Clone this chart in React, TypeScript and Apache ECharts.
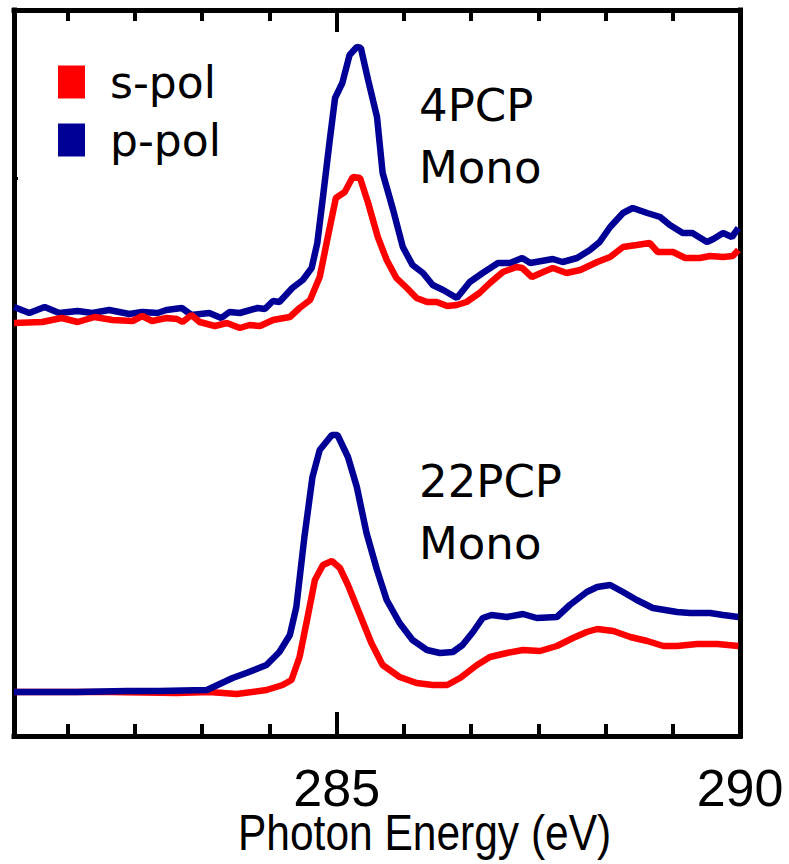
import React, { useEffect, useRef } from 'react';
import * as echarts from 'echarts';

// 4PCP Mono, p-pol
const energyP4 = [281.0, 281.19, 281.38, 281.56, 281.79, 281.97, 282.18, 282.43, 282.59, 282.78, 282.89, 283.08, 283.2, 283.42, 283.57, 283.67, 283.8, 284.02, 284.11, 284.21, 284.29, 284.45, 284.58, 284.69, 284.76, 284.83, 284.91, 284.98, 285.07, 285.16, 285.25, 285.3, 285.39, 285.5, 285.57, 285.7, 285.82, 285.94, 286.07, 286.19, 286.32, 286.49, 286.65, 286.81, 287.0, 287.15, 287.3, 287.4, 287.68, 287.8, 287.98, 288.14, 288.26, 288.39, 288.55, 288.67, 288.85, 289.01, 289.13, 289.29, 289.41, 289.59, 289.67, 289.79, 289.9, 289.98];
const intensityP4 = [4.29, 4.23, 4.29, 4.23, 4.25, 4.23, 4.26, 4.22, 4.24, 4.23, 4.26, 4.28, 4.21, 4.23, 4.18, 4.24, 4.23, 4.28, 4.27, 4.35, 4.34, 4.48, 4.56, 4.68, 4.93, 5.39, 5.93, 6.38, 6.53, 6.81, 6.89, 6.88, 6.56, 6.19, 5.63, 5.26, 4.89, 4.71, 4.63, 4.51, 4.46, 4.38, 4.54, 4.63, 4.73, 4.73, 4.78, 4.73, 4.77, 4.74, 4.78, 4.86, 4.94, 5.09, 5.23, 5.28, 5.23, 5.19, 5.11, 5.03, 5.03, 4.94, 4.97, 5.03, 4.99, 5.08];

// 4PCP Mono, s-pol
const energyS4 = [281.0, 281.35, 281.59, 281.79, 282.0, 282.22, 282.47, 282.59, 282.71, 282.89, 283.02, 283.09, 283.2, 283.3, 283.49, 283.64, 283.8, 283.92, 284.05, 284.21, 284.42, 284.54, 284.67, 284.79, 284.89, 284.99, 285.1, 285.2, 285.29, 285.39, 285.51, 285.62, 285.74, 285.87, 285.99, 286.12, 286.24, 286.37, 286.49, 286.61, 286.77, 286.9, 287.06, 287.23, 287.3, 287.42, 287.56, 287.68, 287.85, 288.02, 288.23, 288.39, 288.55, 288.72, 288.88, 288.98, 289.17, 289.32, 289.5, 289.63, 289.79, 289.91, 289.98];
const intensityS4 = [4.13, 4.14, 4.18, 4.14, 4.19, 4.16, 4.15, 4.2, 4.15, 4.18, 4.17, 4.14, 4.21, 4.14, 4.1, 4.13, 4.08, 4.11, 4.1, 4.16, 4.19, 4.28, 4.36, 4.59, 4.99, 5.38, 5.44, 5.59, 5.58, 5.33, 4.99, 4.76, 4.58, 4.48, 4.38, 4.34, 4.34, 4.3, 4.31, 4.34, 4.43, 4.53, 4.64, 4.69, 4.68, 4.59, 4.64, 4.68, 4.63, 4.66, 4.74, 4.79, 4.89, 4.91, 4.93, 4.84, 4.84, 4.78, 4.78, 4.8, 4.79, 4.8, 4.86];

// 22PCP Mono, p-pol
const energyP22 = [281.0, 281.77, 282.4, 282.8, 283.39, 283.71, 283.88, 284.13, 284.29, 284.42, 284.5, 284.6, 284.7, 284.79, 284.94, 285.01, 285.14, 285.25, 285.37, 285.5, 285.62, 285.78, 285.94, 286.12, 286.28, 286.44, 286.56, 286.69, 286.81, 286.92, 287.11, 287.31, 287.48, 287.73, 287.89, 288.1, 288.23, 288.39, 288.55, 288.72, 288.92, 289.22, 289.38, 289.63, 289.79, 289.98];
const intensityP22 = [0.44, 0.44, 0.45, 0.45, 0.46, 0.58, 0.63, 0.71, 0.84, 1.01, 1.29, 1.99, 2.59, 2.86, 3.01, 3.01, 2.79, 2.49, 2.03, 1.66, 1.36, 1.13, 0.96, 0.86, 0.83, 0.84, 0.91, 1.04, 1.18, 1.21, 1.19, 1.22, 1.18, 1.19, 1.31, 1.44, 1.49, 1.51, 1.44, 1.36, 1.28, 1.24, 1.23, 1.23, 1.21, 1.19];

// 22PCP Mono, s-pol
const energyS22 = [281.0, 282.18, 283.02, 283.42, 283.76, 284.13, 284.33, 284.44, 284.54, 284.64, 284.73, 284.83, 284.94, 285.04, 285.14, 285.29, 285.43, 285.57, 285.78, 285.99, 286.19, 286.37, 286.53, 286.74, 286.9, 287.11, 287.31, 287.52, 287.73, 287.93, 288.1, 288.23, 288.43, 288.64, 288.85, 289.05, 289.22, 289.47, 289.72, 289.98];
const intensityS22 = [0.44, 0.44, 0.43, 0.44, 0.42, 0.46, 0.51, 0.56, 0.79, 1.19, 1.56, 1.71, 1.75, 1.68, 1.51, 1.21, 0.93, 0.71, 0.59, 0.53, 0.51, 0.51, 0.58, 0.71, 0.79, 0.83, 0.86, 0.85, 0.9, 0.98, 1.04, 1.07, 1.05, 0.99, 0.95, 0.9, 0.9, 0.92, 0.92, 0.9];

const majorTickValues = [285];
const minorTickValues = [281.6667, 282.5, 283.3333, 284.1667, 285.8333, 286.6667, 287.5, 288.3333, 289.1667];
const tickLabelValues = [285, 290];
const yTickValues = [5.58];
const xAxisTitle = 'Photon Energy (eV)';

const RED = '#ff0000';
const BLUE = '#000096';

const pairs = (xs: number[], ys: number[]) => xs.map((x, i) => [x, ys[i]]);

export default function App() {
  const ref = useRef<HTMLDivElement>(null);
  useEffect(() => {
    const chart = echarts.init(ref.current!, null, { renderer: 'svg' });
    const axisLine = { show: true, lineStyle: { color: '#000', width: 5, cap: 'square' } };
    const lineSeries = (name: string, color: string, xs: number[], ys: number[]) => ({
      name,
      type: 'line',
      xAxisIndex: 0,
      yAxisIndex: 0,
      data: pairs(xs, ys),
      showSymbol: false,
      symbol: 'none',
      itemStyle: { color },
      lineStyle: { color, width: 6.5 },
      clip: true,
    });
    chart.setOption({
      animation: false,
      backgroundColor: '#fff',
      grid: { left: 14, right: 49, top: 10, bottom: 128, containLabel: false, outerBoundsMode: 'none' },
      legend: {
        data: ['s-pol', 'p-pol'],
        orient: 'vertical',
        left: 58,
        top: 60,
        icon: 'rect',
        itemWidth: 27,
        itemHeight: 33,
        itemGap: 14,
        padding: 0,
        textStyle: {
          fontSize: 44,
          fontFamily: 'DejaVu Sans',
          color: '#000',
          padding: [0, 0, 0, 20],
        },
      },
      xAxis: [
        {
          type: 'value', position: 'bottom', min: 281, max: 290,
          axisLine,
          splitLine: { show: false },
          axisTick: { show: true, inside: true, length: 12, customValues: minorTickValues, lineStyle: { width: 4, color: '#000' } },
          axisLabel: { show: true, customValues: tickLabelValues, margin: 26, fontSize: 52, fontFamily: 'Liberation Sans', color: '#000' },
        },
        {
          type: 'value', position: 'bottom', min: 281, max: 290,
          axisLine: { show: false },
          splitLine: { show: false },
          axisTick: { show: true, inside: true, length: 24, customValues: majorTickValues, lineStyle: { width: 4, color: '#000' } },
          axisLabel: { show: false },
        },
        {
          type: 'value', position: 'top', min: 281, max: 290,
          axisLine,
          splitLine: { show: false },
          axisTick: { show: true, inside: true, length: 11, customValues: minorTickValues, lineStyle: { width: 4, color: '#000' } },
          axisLabel: { show: false },
        },
        {
          type: 'value', position: 'top', min: 281, max: 290,
          axisLine: { show: false },
          splitLine: { show: false },
          axisTick: { show: true, inside: true, length: 22, customValues: majorTickValues, lineStyle: { width: 4, color: '#000' } },
          axisLabel: { show: false },
        },
      ],
      yAxis: [
        {
          type: 'value', position: 'left', min: 0, max: 7.26,
          axisLine,
          splitLine: { show: false },
          axisTick: { show: true, inside: true, length: 4, customValues: yTickValues, lineStyle: { width: 3, color: '#000' } },
          axisLabel: { show: false },
        },
        {
          type: 'value', position: 'right', min: 0, max: 7.26,
          axisLine,
          splitLine: { show: false },
          axisTick: { show: false },
          axisLabel: { show: false },
        },
      ],
      graphic: [
        { type: 'text', left: 419, top: 83, style: { text: '4PCP', fontSize: 45, fontFamily: 'DejaVu Sans', fill: '#000' } },
        { type: 'text', left: 419, top: 145, style: { text: 'Mono', fontSize: 45, fontFamily: 'DejaVu Sans', fill: '#000' } },
        { type: 'text', left: 419, top: 459, style: { text: '22PCP', fontSize: 45, fontFamily: 'DejaVu Sans', fill: '#000' } },
        { type: 'text', left: 419, top: 521, style: { text: 'Mono', fontSize: 45, fontFamily: 'DejaVu Sans', fill: '#000' } },
        {
          type: 'text', x: 238, y: 808, scaleX: 0.85,
          style: { text: xAxisTitle, fontSize: 50, fontFamily: 'Liberation Sans', fill: '#000', align: 'left', verticalAlign: 'top' },
        },
      ],
      series: [
        lineSeries('p-pol', BLUE, energyP4, intensityP4),
        lineSeries('s-pol', RED, energyS4, intensityS4),
        lineSeries('s-pol', RED, energyS22, intensityS22),
        lineSeries('p-pol', BLUE, energyP22, intensityP22),
      ],
    });
    return () => chart.dispose();
  }, []);
  return <div ref={ref} style={{ position: 'absolute', left: 0, top: 0, width: 789, height: 864 }} />;
}
